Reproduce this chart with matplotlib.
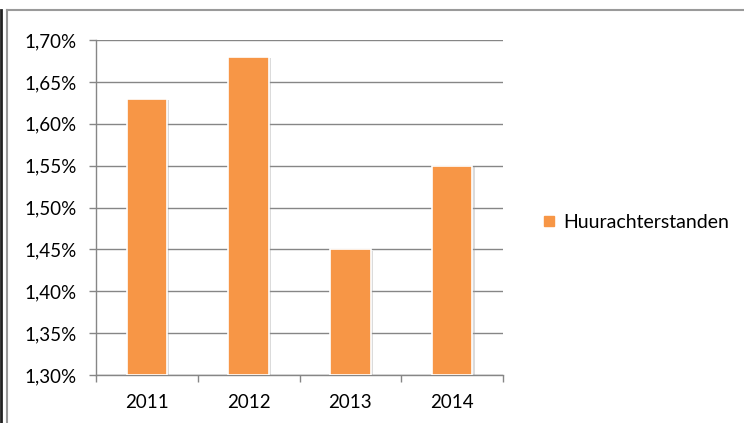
import matplotlib.pyplot as plt
import matplotlib.patheffects as pe
from matplotlib.lines import Line2D
from matplotlib.ticker import FuncFormatter, FixedLocator

# Huurachterstanden per jaar (in %)
jaren = ["2011", "2012", "2013", "2014"]
huurachterstanden = [1.63, 1.68, 1.45, 1.55]

oranje = "#F79646"
grijs = "#868686"

plt.rcParams["font.family"] = ["Lato", "DejaVu Sans"]
plt.rcParams["font.size"] = 13.5

fig = plt.figure(figsize=(7.44, 4.23), dpi=100)
ax = fig.add_axes([96 / 744, 1 - 375 / 423, 407 / 744, 335 / 423])

x = list(range(len(jaren)))
ax.bar(x, [v - 1.30 for v in huurachterstanden], bottom=1.30, width=0.4,
       color=oranje, edgecolor="white", linewidth=1.2, zorder=3,
       path_effects=[pe.SimplePatchShadow(offset=(1.5, -1), shadow_rgbFace="#999999", alpha=0.35),
                     pe.Normal()])

ax.set_xlim(-0.5, len(jaren) - 0.5)
ax.set_ylim(1.30, 1.70)
ax.set_yticks([1.30 + 0.05 * i for i in range(9)])
ax.yaxis.set_major_formatter(FuncFormatter(lambda v, p: f"{v:.2f}%".replace(".", ",")))
ax.grid(axis="y", color=grijs, linewidth=1.0, zorder=0)

# categorie-labels tussen de tickstreepjes
ax.set_xticks(x)
ax.set_xticklabels(jaren)
ax.tick_params(axis="x", length=0, pad=14)
ax.xaxis.set_minor_locator(FixedLocator([i - 0.5 for i in range(len(jaren) + 1)]))
ax.tick_params(axis="x", which="minor", length=5, color=grijs, width=1)
ax.tick_params(axis="y", length=5, color=grijs, width=1, pad=9)

for s in ["top", "right"]:
    ax.spines[s].set_visible(False)
for s in ["left", "bottom"]:
    ax.spines[s].set_color(grijs)
    ax.spines[s].set_linewidth(1.0)

# legenda rechts
handle = Line2D([], [], marker="s", linestyle="none", markersize=7,
                markerfacecolor=oranje, markeredgecolor=oranje)
fig.legend([handle], ["Huurachterstanden"], loc="center left",
           bbox_to_anchor=(541 / 744, 1 - 222 / 423), frameon=False,
           borderpad=0, borderaxespad=0, handlelength=0.8,
           handletextpad=0.35, fontsize=14)

# kader van de grafiek
fig.add_artist(Line2D([7 / 744, 1], [1 - 10 / 423, 1 - 10 / 423], color="#9a9a9a", linewidth=1.5))
fig.add_artist(Line2D([7 / 744, 7 / 744], [0, 1 - 10 / 423], color="#9a9a9a", linewidth=1.5))
fig.add_artist(Line2D([1 / 744, 1 / 744], [0, 1 - 10 / 423], color="#222222", linewidth=2))

fig.savefig("out.png", dpi=100)
